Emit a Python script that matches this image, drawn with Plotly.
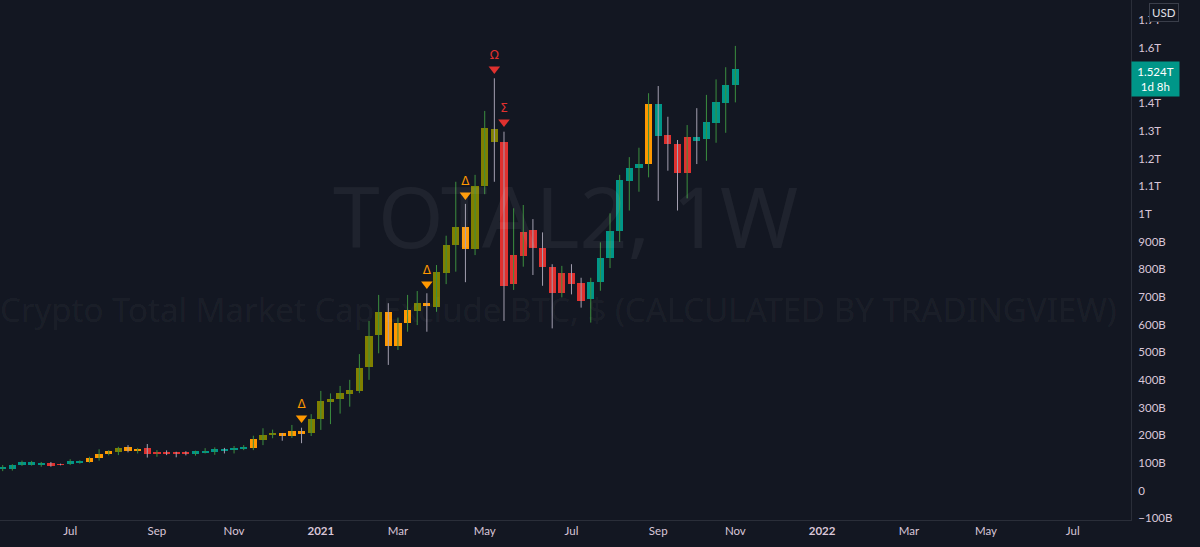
import plotly.graph_objects as go
import pandas as pd

# ---------------- data (values in billions USD) ----------------
start_week = "2020-05-18"
opens = [78, 77, 93, 95, 94, 98, 95, 95, 103, 104, 117, 131, 140, 156, 145, 154, 133, 139, 139, 137,
         133, 138, 140, 150, 145, 153, 155, 184, 201, 207, 197, 214, 207, 258, 321, 330, 350, 361, 445, 562,
         645, 523, 604, 650, 677, 664, 785, 887, 954, 872, 1101, 1306, 1261, 746, 849, 942, 878, 807, 713, 785,
         749, 691, 754, 842, 939, 1120, 1165, 1180, 1397, 1284, 1253, 1147, 1277, 1271, 1330, 1402, 1466]
highs = [92, 95, 108, 107, 103, 103, 97, 113, 109, 122, 149, 146, 158, 164, 154, 168, 146, 145, 140, 142,
         144, 153, 156, 154, 161, 164, 198, 225, 220, 208, 237, 227, 276, 360, 351, 378, 400, 493, 613, 707,
         677, 625, 707, 721, 713, 815, 921, 1116, 1036, 1141, 1372, 1490, 1297, 1020, 1032, 981, 933, 818, 812, 818,
         769, 769, 897, 1002, 1141, 1205, 1239, 1436, 1462, 1351, 1267, 1321, 1382, 1430, 1486, 1530, 1607]
lows = [70, 72, 89, 90, 86, 86, 91, 92, 97, 100, 108, 127, 128, 138, 134, 119, 122, 128, 120, 127,
        126, 134, 129, 134, 134, 146, 146, 164, 189, 180, 190, 171, 197, 219, 240, 278, 303, 352, 400, 496,
        454, 508, 574, 598, 574, 646, 746, 791, 753, 851, 1071, 1116, 613, 725, 809, 779, 740, 586, 698, 709,
        661, 607, 722, 804, 899, 1012, 1080, 1132, 1047, 1156, 1012, 1056, 1180, 1192, 1257, 1293, 1403]
closes = [86, 91, 103, 102, 98, 92, 93, 107, 107, 119, 133, 142, 155, 144, 151, 131, 138, 135, 135.5, 134.5,
          142, 143, 150, 143, 155, 156, 186, 201, 207, 197, 215, 207, 258, 323, 331, 351, 362, 444, 560, 645,
          521, 604, 652, 677, 667, 791, 887, 951, 872, 1101, 1311, 1259, 739, 851, 936, 875, 807, 713, 787, 746,
          686, 754, 842, 938, 1122, 1165, 1180, 1397, 1281, 1251, 1147, 1277, 1265, 1331, 1403, 1466, 1524]
# body colour state per bar: t=teal, r=red, o=orange, v=olive
states = list("tttttrrttooovoorrrrrttttttovvooovvvvvvvvooovovvvovvvrrrrrrrrrttttttotrrrttttt")

signal_idx = [31, 44, 48, 51, 52]
signal_text = ["Δ", "Δ", "Δ", "Ω", "Σ"]
signal_y = [262, 746, 1068, 1524, 1332]
signal_kind = ["o", "o", "o", "r", "r"]

tick_dates = ["2020-07-06", "2020-09-07", "2020-11-02", "2021-01-04", "2021-03-01", "2021-05-03",
              "2021-07-05", "2021-09-06", "2021-11-01", "2022-01-03", "2022-03-07", "2022-05-02", "2022-07-04"]
tick_text = ["Jul", "Sep", "Nov", "2021", "Mar", "May", "Jul", "Sep", "Nov", "2022", "Mar", "May", "Jul"]

y_ticks = [-100, 0, 100, 200, 300, 400, 500, 600, 700, 800, 900, 1000, 1100, 1200, 1300, 1400, 1600, 1700]
y_text = ["−100B", "0", "100B", "200B", "300B", "400B", "500B", "600B", "700B", "800B", "900B",
          "1T", "1.1T", "1.2T", "1.3T", "1.4T", "1.6T", "1.7T"]

last_label = "1.524T"
countdown = "1d 8h"

# ---------------- styling ----------------
BG = "#131722"
STATE_COL = {"t": "#009688", "r": "#e0312f", "o": "#ff9800", "v": "#808000"}
SIG_COL = {"o": "#ff9800", "r": "#e0312f"}
WICK_UP = "#3c8f3f"
WICK_DN = "#a39fb0"
TXT = "#d9c6d8"
LINE = "#2a2e39"

dates = pd.date_range(start_week, periods=len(opens), freq="7D")
week_ms = 7 * 24 * 3600 * 1000

fig = go.Figure()

# wicks
for up, col in [(True, WICK_UP), (False, WICK_DN)]:
    xs, ys = [], []
    for d, o, h, l, c in zip(dates, opens, highs, lows, closes):
        if (c >= o) == up:
            xs += [d, d, None]
            ys += [l, h, None]
    fig.add_trace(go.Scatter(x=xs, y=ys, mode="lines", line=dict(color=col, width=1),
                             hoverinfo="skip", showlegend=False))

# bodies
fig.add_trace(go.Bar(
    x=dates,
    y=[abs(c - o) for o, c in zip(opens, closes)],
    base=[min(o, c) for o, c in zip(opens, closes)],
    width=0.75 * week_ms,
    marker=dict(color=[STATE_COL[s] for s in states], line=dict(width=0)),
    showlegend=False, hoverinfo="skip"))

# signals
for kind in ["o", "r"]:
    sel = [k for k in range(len(signal_idx)) if signal_kind[k] == kind]
    fig.add_trace(go.Scatter(
        x=[dates[signal_idx[k]] for k in sel],
        y=[signal_y[k] for k in sel],
        text=[signal_text[k] for k in sel],
        mode="markers+text", textposition="top center",
        marker=dict(symbol="triangle-down", size=10, color=SIG_COL[kind]),
        textfont=dict(color=SIG_COL[kind], size=12, family="DejaVu Sans"),
        showlegend=False, hoverinfo="skip"))

fig.update_layout(
    width=1200, height=547,
    margin=dict(l=0, r=69, t=0, b=27),
    paper_bgcolor=BG, plot_bgcolor=BG,
    bargap=0,
    font=dict(family="Lato", size=11.5, color=TXT),
    xaxis=dict(type="date", range=["2020-05-16 01:00", "2022-08-15 07:00"],
               tickvals=tick_dates,
               ticktext=[f"<b>{t}</b>" if t.isdigit() else t for t in tick_text],
               showgrid=False, zeroline=False, showline=True, linecolor=LINE, linewidth=1,
               ticks="", fixedrange=True),
    yaxis=dict(side="right", range=[-106.6, 1773], tickvals=y_ticks, ticktext=y_text,
               showgrid=False, zeroline=False, showline=True, linecolor=LINE, linewidth=1,
               ticks="", ticklabelstandoff=4, fixedrange=True),
    annotations=[
        dict(text="TOTAL2, 1W", xref="paper", yref="paper", x=0.5, y=0.585,
             showarrow=False, font=dict(size=84, color="rgba(255,255,255,0.055)", family="Noto Sans")),
        dict(text="Crypto Total Market Cap Exclude BTC, $ (CALCULATED BY TRADINGVIEW)",
             xref="paper", yref="paper", x=0.494, y=0.405,
             showarrow=False, font=dict(size=33, color="rgba(255,255,255,0.055)", family="Noto Sans")),
        dict(text=f"{last_label}<br>{countdown}", xref="paper", yref="y", x=1, y=closes[-1],
             xanchor="left", yanchor="top", yshift=8, showarrow=False, align="center",
             bgcolor="#009688", borderpad=2, width=43, height=30,
             font=dict(color="#ffffff", size=11.5, family="Lato")),
        dict(text="USD", xref="paper", yref="paper", x=1.029, y=1, xanchor="center", yanchor="top",
             yshift=-3, showarrow=False, bgcolor=BG, bordercolor="#3a3e4a", borderwidth=1, borderpad=2,
             font=dict(color="#e0e0e6", size=11.5, family="Lato")),
    ],
)

fig.write_html("out.html", config={"displayModeBar": False},
               post_script="document.body.style.margin='0';document.body.style.overflow='hidden';")
